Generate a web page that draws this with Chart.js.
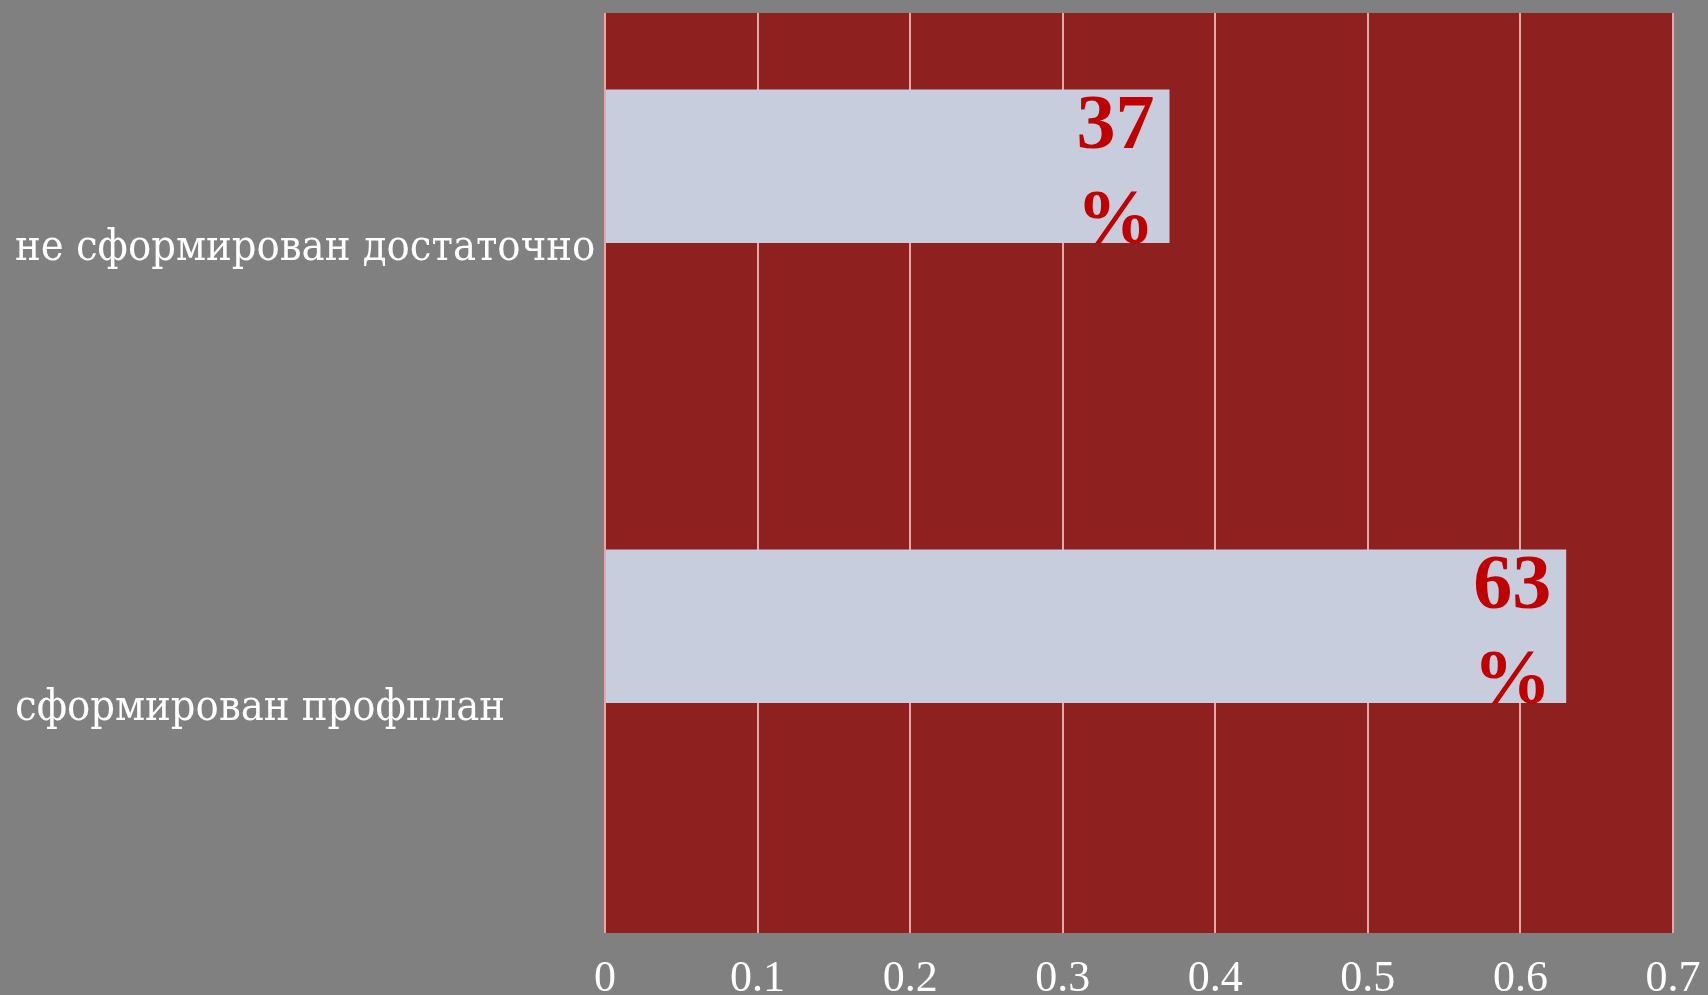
<!DOCTYPE html>
<html>
<head>
<meta charset="utf-8">
<script src="https://cdn.jsdelivr.net/npm/chart.js@4.4.1/dist/chart.umd.min.js"></script>
<style>
  html, body { margin: 0; padding: 0; background: #808080; }
  #wrap { width: 1708px; height: 995px; }
</style>
</head>
<body>
<div id="wrap"><canvas id="c" width="1708" height="995"></canvas></div>
<script>
const categories = ['не сформирован достаточно', 'сформирован профплан'];
const seriesValues = [0.37, 0.63];
const emptySeries = [null, null];
const xTicks = [0, 0.1, 0.2, 0.3, 0.4, 0.5, 0.6, 0.7];

const plotBg = {
  id: 'plotBg',
  beforeDraw(chart) {
    const a = chart.chartArea, ctx = chart.ctx;
    ctx.save();
    ctx.fillStyle = '#8e2020';
    ctx.fillRect(a.left, a.top, a.right - a.left, a.bottom - a.top);
    ctx.restore();
  }
};

const valueLabels = {
  id: 'valueLabels',
  afterDatasetsDraw(chart) {
    const ctx = chart.ctx;
    const meta = chart.getDatasetMeta(0);
    ctx.save();
    ctx.fillStyle = '#c00000';
    ctx.font = 'bold 78px "Liberation Serif", "Times New Roman", serif';
    ctx.textAlign = 'center';
    ctx.textBaseline = 'alphabetic';
    meta.data.forEach((bar, i) => {
      const v = seriesValues[i];
      if (v == null) return;
      const top = bar.y - bar.height / 2;
      const cx = bar.x - 54;
      ctx.fillText(String(Math.round(v * 100)), cx, top + 58);
      ctx.fillText('%', cx, top + 153);
    });
    ctx.restore();
  }
};

new Chart(document.getElementById('c'), {
  type: 'bar',
  data: {
    labels: categories,
    datasets: [
      { label: 'Ряд 1', data: seriesValues, backgroundColor: '#c8cddd', borderWidth: 0,
        categoryPercentage: 0.667, barPercentage: 1 },
      { label: 'Ряд 2', data: emptySeries, backgroundColor: '#c8cddd', borderWidth: 0,
        categoryPercentage: 0.667, barPercentage: 1 }
    ]
  },
  options: {
    indexAxis: 'y',
    responsive: false,
    animation: false,
    layout: { padding: { left: 15, right: 35, top: 13, bottom: 0 } },
    plugins: { legend: { display: false }, tooltip: { enabled: false } },
    scales: {
      x: {
        min: 0, max: 0.7,
        afterBuildTicks(scale) { scale.ticks = xTicks.map(v => ({ value: v })); },
        afterFit(scale) { scale.height = 62; scale.paddingLeft = 0; scale.paddingRight = 0; },
        grid: { color: '#e8a6a6', lineWidth: 2, drawTicks: false },
        border: { display: false },
        ticks: {
          color: '#ffffff', padding: 20,
          font: { family: '"Liberation Serif", "Times New Roman", serif', size: 44 },
          callback: (v) => String(v)
        }
      },
      y: {
        afterFit(scale) { scale.width = 590; scale.paddingTop = 0; scale.paddingBottom = 0; },
        grid: { display: false, drawTicks: false },
        border: { display: false },
        ticks: {
          color: '#ffffff', crossAlign: 'far', padding: 0, labelOffset: 6,
          font: { family: '"DejaVu Serif Condensed", "DejaVu Serif", serif', size: 43 }
        }
      }
    }
  },
  plugins: [plotBg, valueLabels]
});
</script>
</body>
</html>
